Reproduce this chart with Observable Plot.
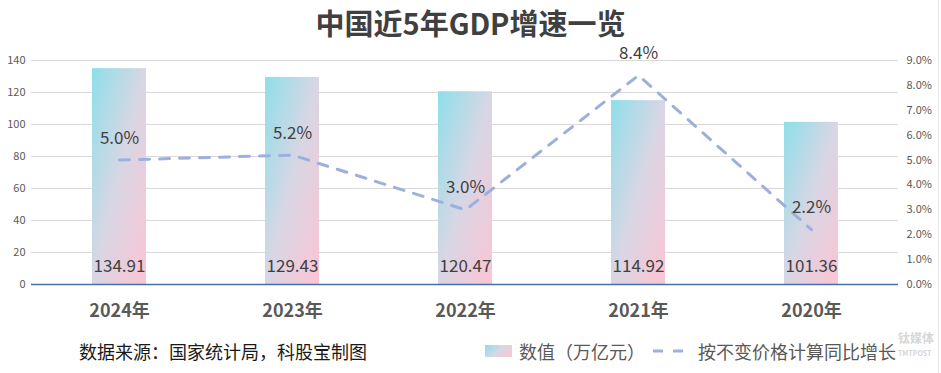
<!DOCTYPE html>
<html><head><meta charset="utf-8">
<script src="https://cdn.jsdelivr.net/npm/d3@7"></script>
<script src="https://cdn.jsdelivr.net/npm/@observablehq/plot@0.6"></script>
<style>
html,body{margin:0;padding:0;background:#fff;}
#wrap{position:relative;width:941px;height:373px;overflow:hidden;font-family:"Noto Sans CJK SC","Noto Sans",sans-serif;}
#title{position:absolute;left:0;top:0;width:941px;text-align:center;font-size:29px;font-weight:bold;color:#404040;line-height:44px;}
#chart{position:absolute;left:0;top:40px;}
#source{position:absolute;left:79px;top:338px;font-size:18px;color:#1a1a1a;line-height:26px;}
#legend{position:absolute;left:485px;top:338px;font-size:18px;color:#595959;line-height:26px;display:flex;align-items:center;white-space:nowrap;}
.sw{width:27px;height:12px;background:linear-gradient(135deg,#8edfea,#d8d6e4,#fcc4d4);margin-right:7px;}
#wm1{position:absolute;left:898px;top:331px;color:#d6d6d6;font-size:12px;line-height:14px;font-weight:bold;}
#wm2{position:absolute;left:898px;top:349px;color:#d6d6d6;font-size:7px;line-height:8px;font-weight:bold;}
#edge{position:absolute;left:938px;top:0;width:1px;height:373px;background:#e6e6e6;}
</style></head>
<body>
<div id="wrap">
  <div id="title">中国近5年GDP增速一览</div>
  <div id="chart"></div>
  <div id="source">数据来源：国家统计局，科股宝制图</div>
  <div id="legend"><div class="sw"></div><span>数值（万亿元）</span><svg width="40" height="10" style="margin:0 5px 0 8px"><line x1="0" y1="5" x2="30" y2="5" stroke="#9db0dd" stroke-width="3" stroke-dasharray="10,10"/></svg><span>按不变价格计算同比增长</span></div>
  <div id="wm1">钛媒体</div>
  <div id="wm2">TMTPOST</div>
  <div id="edge"></div>
</div>
<script>
const years = ["2024年", "2023年", "2022年", "2021年", "2020年"];
const gdpValues = [134.91, 129.43, 120.47, 114.92, 101.36];
const growthRates = [5.0, 5.2, 3.0, 8.4, 2.2];
const leftTicks = [0, 20, 40, 60, 80, 100, 120, 140];
const rightTicks = [0, 1, 2, 3, 4, 5, 6, 7, 8, 9];
const leftMax = 140, rightMax = 9;

const data = years.map((y, i) => ({year: y, value: gdpValues[i], growth: growthRates[i]}));
const toLeft = p => p * leftMax / rightMax;

const defs = () => {
  const d = d3.create("svg:defs");
  const g = d.append("linearGradient").attr("id", "barGrad")
    .attr("x1", 0).attr("y1", 0).attr("x2", 1).attr("y2", 1);
  g.append("stop").attr("offset", "0%").attr("stop-color", "#8edfea");
  g.append("stop").attr("offset", "50%").attr("stop-color", "#d8d6e4");
  g.append("stop").attr("offset", "100%").attr("stop-color", "#fcc4d4");
  return d.node();
};

const chart = Plot.plot({
  width: 941,
  height: 290,
  marginTop: 20,
  marginBottom: 46,
  marginLeft: 31,
  marginRight: 43,
  style: {fontFamily: '"Noto Sans CJK SC","Noto Sans",sans-serif', background: "transparent"},
  x: {domain: years, paddingInner: 0.69, paddingOuter: 0.345, label: null},
  y: {domain: [0, leftMax], label: null},
  marks: [
    defs,
    Plot.gridY(leftTicks.filter(t => t > 0), {stroke: "#d9d9d9", strokeOpacity: 1}),
    Plot.axisY(leftTicks, {tickSize: 0, tickPadding: 6, fontSize: 11, color: "#595959", label: null}),
    Plot.axisY(rightTicks.map(toLeft), {anchor: "right", tickSize: 0, tickPadding: 8, fontSize: 11, color: "#595959", label: null,
      tickFormat: d => (d * rightMax / leftMax).toFixed(1) + "%"}),
    Plot.axisX({tickSize: 0, tickPadding: 20, fontSize: 18, fontWeight: "bold", color: "#595959", label: null}),
    Plot.barY(data, {x: "year", y: "value", fill: "url(#barGrad)"}),
    Plot.ruleY([0], {stroke: "#4a6ea8", strokeWidth: 1.3}),
    Plot.line(data, {x: "year", y: d => toLeft(d.growth), stroke: "#9db0dd", strokeWidth: 3, strokeDasharray: "10,10"}),
    Plot.text(data, {x: "year", y: 0, text: d => d.value.toFixed(2), dy: -18, fontSize: 17, fill: "#404040"}),
    Plot.text(data, {x: "year", y: d => toLeft(d.growth), text: d => d.growth.toFixed(1) + "%", dy: -22, fontSize: 17, fill: "#404040"})
  ]
});
document.getElementById("chart").appendChild(chart);
</script>
</body></html>
